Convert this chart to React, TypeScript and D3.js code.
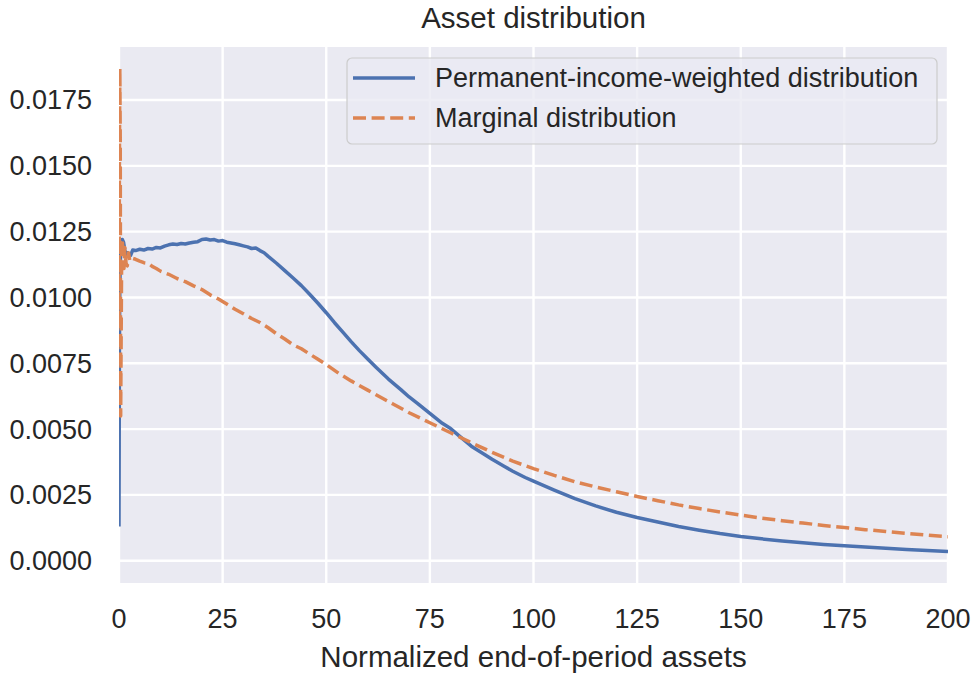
import { useEffect } from "react";
import * as d3 from "d3";

const WIDTH = 975;
const HEIGHT = 673;
const MARGIN = { top: 47, right: 27, bottom: 90, left: 119 };
const FONT = "'Liberation Sans', Arial, Helvetica, sans-serif";

const X_TICKS = [0, 25, 50, 75, 100, 125, 150, 175, 200];
const Y_TICKS = [0, 0.0025, 0.005, 0.0075, 0.01, 0.0125, 0.015, 0.0175];

// Permanent-income-weighted distribution
const PIW_X = [
  0, 0.05, 0.1, 0.2, 0.35, 0.5, 0.8, 1.1, 1.4, 1.7, 2.0, 2.4, 2.8, 3.3, 4, 5, 6,
  7, 8, 9, 10, 11, 12, 13, 14, 15, 16, 17, 18, 19, 20, 21, 22, 23, 24, 25, 26,
  27, 28, 29, 30, 31, 32, 33, 34, 35, 36, 38, 40, 42, 44, 46, 48, 50, 52, 54,
  56, 58, 60, 62, 65, 68, 70, 72, 75, 78, 80, 83, 85, 88, 90, 93, 95, 98, 100,
  105, 110, 115, 120, 125, 130, 135, 140, 145, 150, 155, 160, 165, 170, 175,
  180, 185, 190, 195, 200,
];
const PIW_Y = [
  0.0013, 0.0045, 0.008, 0.0104, 0.0116, 0.012, 0.0122, 0.0121, 0.0118, 0.0116,
  0.0117, 0.01155, 0.0116, 0.0118, 0.01178, 0.01183, 0.0118, 0.01186, 0.01184,
  0.0119, 0.01188, 0.01195, 0.012, 0.01203, 0.01201, 0.01205, 0.01203,
  0.01207, 0.0121, 0.01212, 0.0122, 0.01222, 0.01218, 0.0122, 0.01214,
  0.01216, 0.0121, 0.01207, 0.01204, 0.012, 0.01196, 0.01192, 0.01186,
  0.01188, 0.01178, 0.0117, 0.01156, 0.0113, 0.01102, 0.01074, 0.01045,
  0.01012, 0.00978, 0.00942, 0.00904, 0.00868, 0.00832, 0.00798, 0.00766,
  0.00735, 0.0069, 0.0065, 0.00622, 0.00598, 0.0056, 0.00522, 0.00502,
  0.00462, 0.00435, 0.00405, 0.00385, 0.00358, 0.0034, 0.00316, 0.00302,
  0.00268, 0.00236, 0.00208, 0.00184, 0.00164, 0.00147, 0.0013, 0.00116,
  0.00103, 0.00092, 0.00083, 0.00075, 0.00068, 0.00062, 0.00057, 0.00052,
  0.00047, 0.00043, 0.00039, 0.00035,
];

// Marginal distribution
const MARG_X = [
  0, 0.1, 0.2, 0.3, 0.4, 0.5, 0.65, 0.8, 1.0, 1.2, 1.4, 1.7, 2.0, 2.3, 2.6, 3,
  4, 5, 6, 7, 8, 9, 10, 12, 14, 16, 18, 20, 22, 24, 26, 28, 30, 32, 34, 36, 38,
  40, 42, 44, 46, 48, 50, 53, 56, 60, 63, 66, 70, 75, 80, 85, 90, 95, 100, 105,
  110, 115, 120, 125, 130, 135, 140, 145, 150, 155, 160, 165, 170, 175, 180,
  185, 190, 195, 200,
];
const MARG_Y = [
  0.009, 0.015, 0.0187, 0.016, 0.0055, 0.008, 0.0118, 0.0122, 0.0114, 0.0111,
  0.0119, 0.0113, 0.0112, 0.0117, 0.0114, 0.0115, 0.01145, 0.01138, 0.01132,
  0.0113, 0.01118, 0.0111, 0.011, 0.01088, 0.01072, 0.0106, 0.01044, 0.0103,
  0.0101, 0.00994, 0.00975, 0.00955, 0.00938, 0.0092, 0.00905, 0.00885,
  0.00862, 0.00842, 0.0082, 0.00805, 0.00785, 0.00765, 0.00745, 0.00712,
  0.00683, 0.00648, 0.00622, 0.00596, 0.00562, 0.00524, 0.00486, 0.00448,
  0.00412, 0.00378, 0.0035, 0.00324, 0.003, 0.0028, 0.00262, 0.00244, 0.00228,
  0.00212, 0.00198, 0.00185, 0.00173, 0.00162, 0.00152, 0.00143, 0.00134,
  0.00126, 0.00118, 0.00111, 0.00104, 0.00097, 0.00091,
];

const SERIES = [
  { name: "Permanent-income-weighted distribution", xs: PIW_X, ys: PIW_Y, color: "#4c72b0", dash: "" },
  { name: "Marginal distribution", xs: MARG_X, ys: MARG_Y, color: "#dd8452", dash: "13,5.6" },
];

export default function App() {
  useEffect(() => {
    document.body.style.margin = "0";
  }, []);

  const boundsWidth = WIDTH - MARGIN.left - MARGIN.right;
  const boundsHeight = HEIGHT - MARGIN.top - MARGIN.bottom;

  const xScale = d3.scaleLinear().domain([0, 200]).range([0, boundsWidth]);
  const yScale = d3
    .scaleLinear()
    .domain([-0.000847, 0.019514])
    .range([boundsHeight, 0]);

  const line = d3
    .line<[number, number]>()
    .x((d) => xScale(d[0]))
    .y((d) => yScale(d[1]));

  return (
    <svg width={WIDTH} height={HEIGHT} style={{ display: "block" }} fontFamily={FONT}>
      <defs>
        <clipPath id="plot-clip">
          <rect width={boundsWidth} height={boundsHeight} />
        </clipPath>
      </defs>
      <text
        x={MARGIN.left + boundsWidth / 2}
        y={28}
        textAnchor="middle"
        fontSize={29.5}
        fill="#262626"
      >
        Asset distribution
      </text>
      <g transform={`translate(${MARGIN.left},${MARGIN.top})`}>
        <rect width={boundsWidth} height={boundsHeight} fill="#eaeaf2" />
        {X_TICKS.map((t) => (
          <line key={"gx" + t} x1={xScale(t)} x2={xScale(t)} y1={0} y2={boundsHeight} stroke="#fff" strokeWidth={2.4} />
        ))}
        {Y_TICKS.map((t) => (
          <line key={"gy" + t} x1={0} x2={boundsWidth} y1={yScale(t)} y2={yScale(t)} stroke="#fff" strokeWidth={2.4} />
        ))}
        <g clipPath="url(#plot-clip)">
          {SERIES.map((s) => (
            <path
              key={s.name}
              d={line(s.xs.map((x, i) => [x, s.ys[i]] as [number, number])) || ""}
              fill="none"
              stroke={s.color}
              strokeWidth={3.5}
              strokeDasharray={s.dash || undefined}
              strokeLinejoin="round"
            />
          ))}
        </g>
        {X_TICKS.map((t) => (
          <text key={"tx" + t} x={xScale(t)} y={boundsHeight + 45} textAnchor="middle" fontSize={27} fill="#262626">
            {t}
          </text>
        ))}
        {Y_TICKS.map((t) => (
          <text key={"ty" + t} x={-27} y={yScale(t)} dy="0.35em" textAnchor="end" fontSize={27} fill="#262626">
            {t.toFixed(4)}
          </text>
        ))}
        <text x={boundsWidth / 2} y={boundsHeight + 84} textAnchor="middle" fontSize={29.5} fill="#262626">
          Normalized end-of-period assets
        </text>
        {/* legend */}
        <g transform={`translate(${347 - MARGIN.left},${58 - MARGIN.top})`}>
          <rect width={590} height={86} rx={5} fill="#eaeaf2" fillOpacity={0.8} stroke="#cccccc" strokeWidth={1.2} />
          {SERIES.map((s, i) => (
            <g key={s.name} transform={`translate(0,${20 + i * 40})`}>
              <line x1={6} x2={68} y1={0} y2={0} stroke={s.color} strokeWidth={3.5} strokeDasharray={s.dash || undefined} />
              <text x={88} y={0} dy="0.35em" fontSize={27} fill="#262626">
                {s.name}
              </text>
            </g>
          ))}
        </g>
      </g>
    </svg>
  );
}
